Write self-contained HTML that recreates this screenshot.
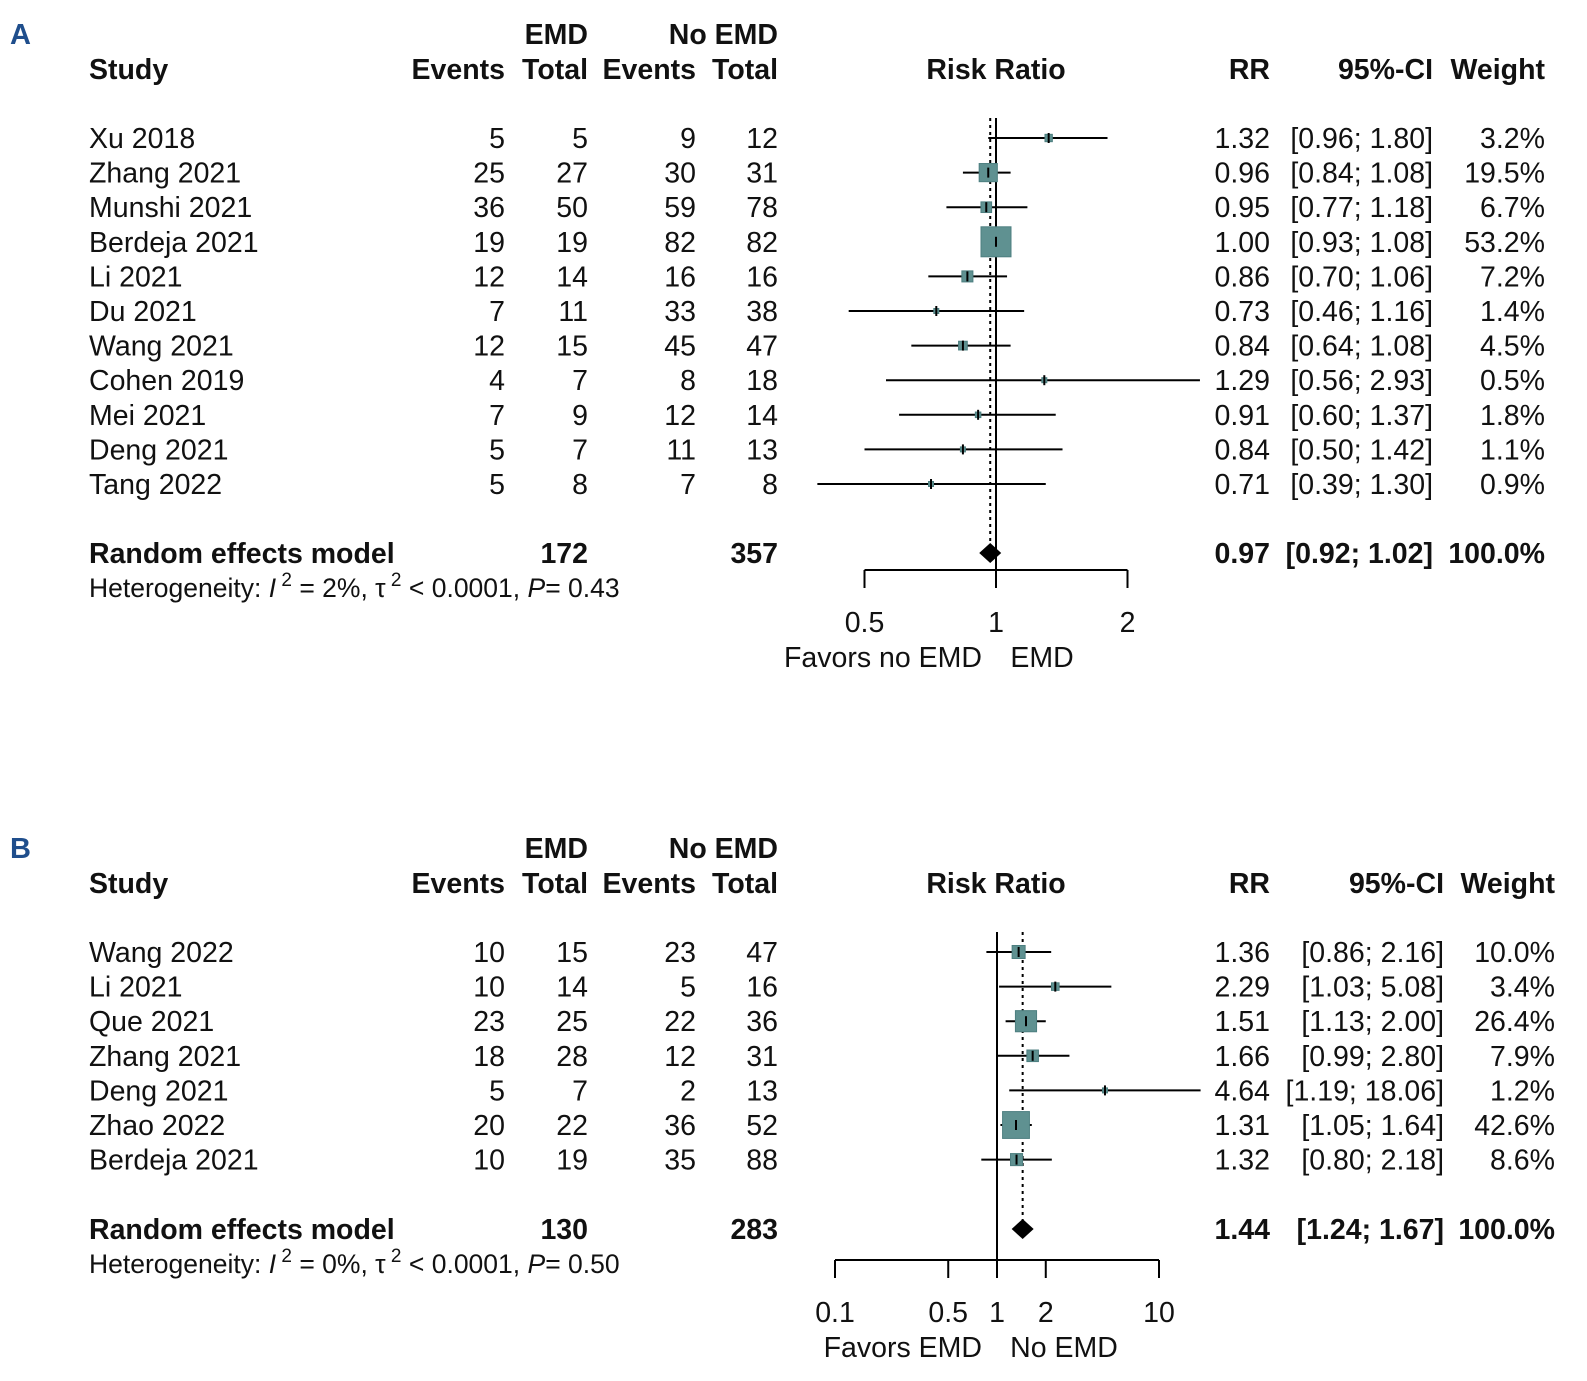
<!DOCTYPE html>
<html><head><meta charset="utf-8"><style>
body{margin:0;background:#fff}
svg{display:block;font-family:"Liberation Sans",Arial,sans-serif}
text{font-size:28.5px;fill:#111}
.b{font-weight:bold}
</style></head><body>
<svg id="chart" width="1587" height="1381" viewBox="0 0 1587 1381"></svg>
<script>
// Panel A data
const studiesA=["Xu 2018","Zhang 2021","Munshi 2021","Berdeja 2021","Li 2021","Du 2021","Wang 2021","Cohen 2019","Mei 2021","Deng 2021","Tang 2022"];
const evEmdA=[5,25,36,19,12,7,12,4,7,5,5];
const totEmdA=[5,27,50,19,14,11,15,7,9,7,8];
const evNoA=[9,30,59,82,16,33,45,8,12,11,7];
const totNoA=[12,31,78,82,16,38,47,18,14,13,8];
const rrA=[1.32,0.96,0.95,1.00,0.86,0.73,0.84,1.29,0.91,0.84,0.71];
const loA=[0.96,0.84,0.77,0.93,0.70,0.46,0.64,0.56,0.60,0.50,0.39];
const hiA=[1.80,1.08,1.18,1.08,1.06,1.16,1.08,2.93,1.37,1.42,1.30];
const wA=[3.2,19.5,6.7,53.2,7.2,1.4,4.5,0.5,1.8,1.1,0.9];
const sumA=[0.97,0.92,1.02];
const ticksA=[0.5,1,2];
// Panel B data
const studiesB=["Wang 2022","Li 2021","Que 2021","Zhang 2021","Deng 2021","Zhao 2022","Berdeja 2021"];
const evEmdB=[10,10,23,18,5,20,10];
const totEmdB=[15,14,25,28,7,22,19];
const evNoB=[23,5,22,12,2,36,35];
const totNoB=[47,16,36,31,13,52,88];
const rrB=[1.36,2.29,1.51,1.66,4.64,1.31,1.32];
const loB=[0.86,1.03,1.13,0.99,1.19,1.05,0.80];
const hiB=[2.16,5.08,2.00,2.80,18.06,1.64,2.18];
const wB=[10.0,3.4,26.4,7.9,1.2,42.6,8.6];
const sumB=[1.44,1.24,1.67];
const ticksB=[0.1,0.5,1,2,10];

const svg=document.getElementById('chart');
const NS='http://www.w3.org/2000/svg';
function mk(tag,attrs,name,txt){
  const e=document.createElementNS(NS,tag);
  for(const k in attrs)e.setAttribute(k,attrs[k]);
  
  
  if(txt!==undefined)e.textContent=txt;
  svg.appendChild(e);return e;
}
function T(x,y,s,anchor,cls,name){return mk('text',{x:x,y:y,'text-anchor':anchor||'start','class':cls||''},name,s);}
const f2=v=>v.toFixed(2);

function panel(o){
  const y0=o.y0, step=34.6;
  const xs=v=>o.x1+o.scale*Math.log(v);
  T(10,y0-94,o.letter,'start','b','panel-label').setAttribute('style','fill:#1f4e8c;font-size:29px');
  T(588,y0-94,'EMD','end','b','emd-group-header');
  T(778,y0-94,'No EMD','end','b','no-emd-group-header');
  T(89,y0-59,'Study','start','b','study-header');
  T(505,y0-59,'Events','end','b','emd-events-header');
  T(588,y0-59,'Total','end','b','emd-total-header');
  T(696,y0-59,'Events','end','b','noemd-events-header');
  T(778,y0-59,'Total','end','b','noemd-total-header');
  T(996,y0-59,'Risk Ratio','middle','b','risk-ratio-header');
  T(1270,y0-59,'RR','end','b','rr-header');
  T(o.ciR,y0-59,'95%-CI','end','b','ci-header');
  T(o.wR,y0-59,'Weight','end','b','weight-header');
  const n=o.st.length;
  const sumY=o.sumY;
  mk('line',{x1:xs(1),x2:xs(1),y1:y0-20,y2:o.axY,stroke:'#000','stroke-width':2},'null-effect-line');
  mk('line',{x1:xs(o.sum[0]),x2:xs(o.sum[0]),y1:y0-20,y2:sumY,stroke:'#000','stroke-width':2,'stroke-dasharray':'3,4'},'pooled-effect-line');
  for(let i=0;i<n;i++){
    const y=y0+i*step;
    T(89,y+10,o.st[i],'start','','study-name');
    T(505,y+10,o.e1[i],'end','','emd-events');
    T(588,y+10,o.t1[i],'end','','emd-total');
    T(696,y+10,o.e2[i],'end','','noemd-events');
    T(778,y+10,o.t2[i],'end','','noemd-total');
    T(1270,y+10,f2(o.rr[i]),'end','','rr-value');
    T(o.ciR,y+10,'['+f2(o.lo[i])+'; '+(o.hi[i]>=10?'':' ')+f2(o.hi[i])+']','end','','ci-value').setAttribute('xml:space','preserve');
    T(o.wR,y+10,o.w[i].toFixed(1)+'%','end','','weight-value');
    const x1=Math.max(xs(o.lo[i]),o.clipL), x2=Math.min(xs(o.hi[i]),1203);
    mk('line',{x1:x1,x2:x2,y1:y,y2:y,stroke:'#000','stroke-width':2},'ci-whisker');
    const s=Math.max(5,30*Math.sqrt(o.w[i]/53.2));
    const cx=xs(o.rr[i]);
    mk('rect',{x:cx-s/2,y:y-s/2,width:s,height:s,fill:'#5f9191',stroke:'#4d7f80','stroke-width':1},'study-weight-box');
    mk('line',{x1:cx,x2:cx,y1:y-5,y2:y+5,stroke:'#000','stroke-width':2},'point-estimate');
  }
  T(89,sumY+10,'Random effects model','start','b','random-effects-label');
  T(588,sumY+10,o.tot1,'end','b','emd-total-sum');
  T(778,sumY+10,o.tot2,'end','b','noemd-total-sum');
  T(1270,sumY+10,f2(o.sum[0]),'end','b','pooled-rr');
  T(o.ciR,sumY+10,'['+f2(o.sum[1])+'; '+f2(o.sum[2])+']','end','b','pooled-ci');
  T(o.wR,sumY+10,'100.0%','end','b','pooled-weight');
  const dl=Math.min(xs(o.sum[1]),xs(o.sum[0])-11),dr=Math.max(xs(o.sum[2]),xs(o.sum[0])+11),dc=xs(o.sum[0]);
  mk('polygon',{points:`${dl},${sumY} ${dc},${sumY-10} ${dr},${sumY} ${dc},${sumY+10}`,fill:'#000'},'pooled-diamond');
  const het=mk('text',{x:89,y:sumY+44,style:'font-size:26.5px'},'heterogeneity-text');
  het.innerHTML='Heterogeneity: <tspan font-style="italic">I</tspan><tspan dy="-11" font-size="19"> 2</tspan><tspan dy="11"> = '+o.i2+'%, τ</tspan><tspan dy="-11" font-size="19"> 2</tspan><tspan dy="11"> &lt; 0.0001, </tspan><tspan font-style="italic">P</tspan>= '+o.p;
  const tl=xs(o.ticks[0]),tr=xs(o.ticks[o.ticks.length-1]);
  mk('line',{x1:tl,x2:tr,y1:o.axY,y2:o.axY,stroke:'#000','stroke-width':2},'x-axis-line');
  o.ticks.forEach(t=>{
    mk('line',{x1:xs(t),x2:xs(t),y1:o.axY,y2:o.axY+18,stroke:'#000','stroke-width':2},'x-axis-tick');
    T(xs(t),o.axY+62,String(t),'middle','','x-axis-tick-label');
  });
  T(982,o.axY+97,o.favL,'end','','favors-left-label');
  T(o.favRx,o.axY+97,o.favR,'middle','','favors-right-label');
}
panel({letter:'A',y0:138,st:studiesA,e1:evEmdA,t1:totEmdA,e2:evNoA,t2:totNoA,rr:rrA,lo:loA,hi:hiA,w:wA,sum:sumA,ticks:ticksA,
  x1:996,scale:131.5/Math.LN2,ciR:1433,wR:1545,sumY:553,axY:570,tot1:172,tot2:357,i2:2,p:'0.43',favL:'Favors no EMD',favR:'EMD',favRx:1042,clipL:800});
panel({letter:'B',y0:952,st:studiesB,e1:evEmdB,t1:totEmdB,e2:evNoB,t2:totNoB,rr:rrB,lo:loB,hi:hiB,w:wB,sum:sumB,ticks:ticksB,
  x1:997,scale:162/Math.LN10,ciR:1444,wR:1555,sumY:1229,axY:1260,tot1:130,tot2:283,i2:0,p:'0.50',favL:'Favors EMD',favR:'No EMD',favRx:1064,clipL:800});
</script>
</body></html>
